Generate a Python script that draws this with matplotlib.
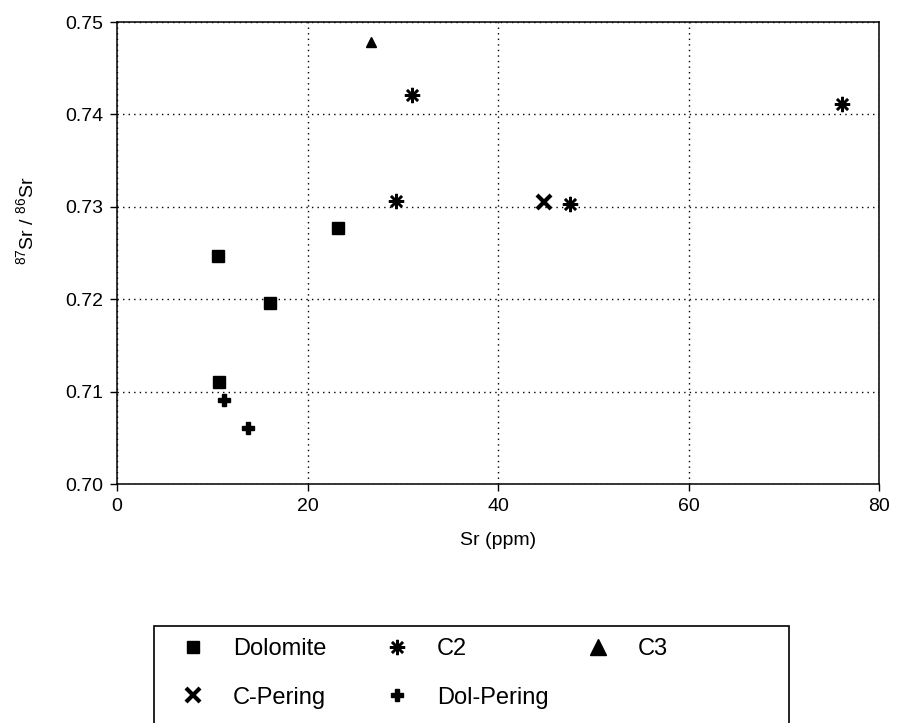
import matplotlib
matplotlib.use("Agg")
import matplotlib.pyplot as plt

plt.rcParams['font.family'] = ['Liberation Sans', 'DejaVu Sans']
plt.rcParams['mathtext.fontset'] = 'custom'
plt.rcParams['mathtext.rm'] = 'Liberation Sans'
plt.rcParams['mathtext.it'] = 'Liberation Sans:italic'

# Sr concentration (ppm) and 87Sr/86Sr ratio per sample group
dolomite_sr = [10.6, 10.7, 16.1, 23.2]
dolomite_ratio = [0.7247, 0.7110, 0.7196, 0.7277]

c2_sr = [29.3, 31.0, 47.6, 76.1]
c2_ratio = [0.7306, 0.7421, 0.7303, 0.7411]

c3_sr = [26.7]
c3_ratio = [0.7478]

cpering_sr = [44.8]
cpering_ratio = [0.7305]

dolpering_sr = [11.2, 13.8]
dolpering_ratio = [0.7091, 0.7061]

x_ticks = [0, 20, 40, 60, 80]
y_ticks = [0.70, 0.71, 0.72, 0.73, 0.74, 0.75]

W, H = 897, 723
fig = plt.figure(figsize=(W / 100, H / 100), dpi=100)
ax = fig.add_axes([117 / W, 1 - 484 / H, (879 - 117) / W, (484 - 22) / H])

h_dol, = ax.plot(dolomite_sr, dolomite_ratio, 's', color='black', ms=8, linestyle='none')
h_c2, = ax.plot(c2_sr, c2_ratio, marker=(8, 2, 0), color='black', ms=11, mew=1.8, linestyle='none')
h_c3, = ax.plot(c3_sr, c3_ratio, '^', color='black', ms=7.5, linestyle='none')
h_cp, = ax.plot(cpering_sr, cpering_ratio, 'x', color='black', ms=10, mew=3, linestyle='none')
h_dp, = ax.plot(dolpering_sr, dolpering_ratio, 'P', color='black', ms=8, linestyle='none')

ax.set_xlim(0, 80)
ax.set_ylim(0.70, 0.75)
ax.set_xticks(x_ticks)
ax.set_yticks(y_ticks)
ax.set_yticklabels([f"{v:.2f}" for v in y_ticks])
ax.tick_params(direction='out', length=5, width=1, labelsize=14, pad=5)
ax.grid(True, color='black', linestyle=(0, (1, 3)), linewidth=1.0)
for s in ax.spines.values():
    s.set_linewidth(1.1)

ax.set_xlabel('Sr (ppm)', fontsize=14, labelpad=12)
ax.set_ylabel('$^{87}$Sr / $^{86}$Sr', fontsize=14)
ax.yaxis.set_label_coords(-0.105, 0.57)

# legend: frame drawn separately, three columns placed by hand
fig.patches.append(plt.Rectangle((154 / W, -0.2), (789 - 154) / W, 0.2 + 1 - 626 / H,
                                 transform=fig.transFigure, fill=False,
                                 edgecolor='black', linewidth=1.2))
columns = [([h_dol, h_cp], ['Dolomite', 'C-Pering'], 181),
           ([h_c2, h_dp], ['C2', 'Dol-Pering'], 385),
           ([h_c3], ['C3'], 586)]
for handles, labels, x0 in columns:
    leg = fig.legend(handles, labels, loc='upper left',
                     bbox_to_anchor=(x0 / W, 1 - 638 / H),
                     frameon=False, fontsize=17, handlelength=1.0,
                     handletextpad=1.19, labelspacing=1.13,
                     borderpad=0, borderaxespad=0)
    for lh in leg.legend_handles:
        if lh.get_marker() == '^':
            lh.set_markersize(11)

fig.savefig('out.png', dpi=100)
